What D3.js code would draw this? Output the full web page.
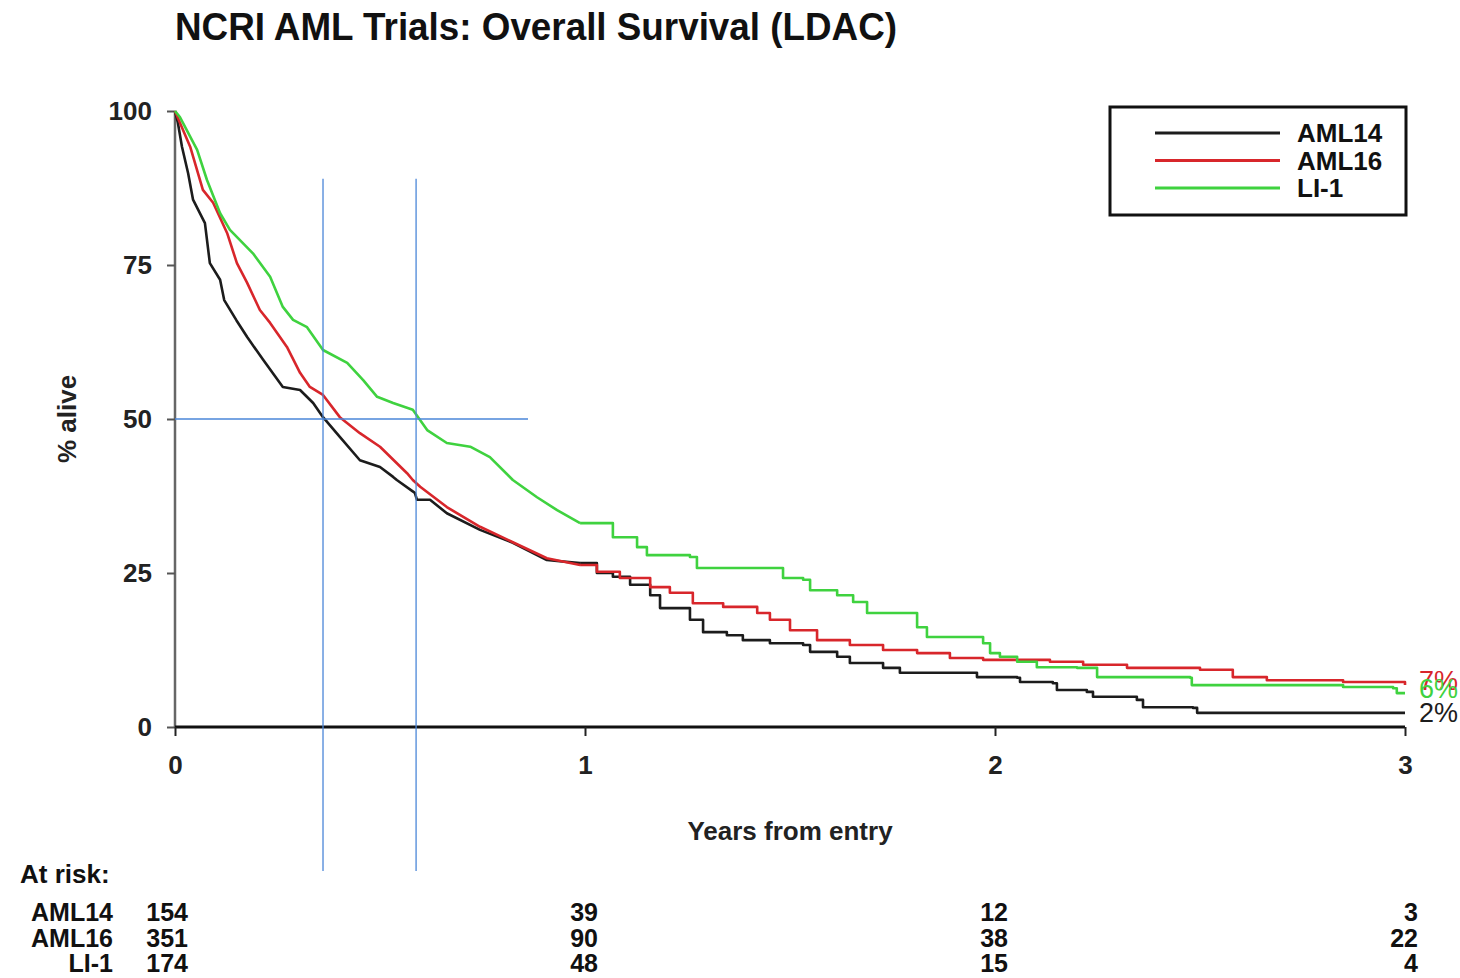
<!DOCTYPE html>
<html>
<head>
<meta charset="utf-8">
<script src="https://cdn.jsdelivr.net/npm/d3@7"></script>
<style>
  body { margin: 0; background: #fff; }
  svg { display: block; font-family: "Liberation Sans", Arial, Helvetica, sans-serif; }
</style>
</head>
<body>
<div id="plot"></div>
<script>
// Kaplan-Meier curves: [years from entry, % alive]
const aml14 = [
  [0, 100], [0.007, 98.1], [0.017, 94.2], [0.032, 89.9], [0.044, 85.6], [0.073, 81.8],
  [0.085, 75.3], [0.110, 72.6], [0.120, 69.3], [0.150, 66.0], [0.176, 63.3], [0.215, 59.6],
  [0.263, 55.2], [0.305, 54.7], [0.337, 52.6], [0.361, 50.3], [0.402, 47.1], [0.451, 43.3],
  [0.500, 42.2], [0.532, 40.6], [0.541, 40.1], [0.585, 38.0], [0.590, 36.9], [0.622, 36.9],
  [0.663, 34.7], [0.744, 32.0], [0.824, 29.9], [0.907, 27.1], [0.988, 26.6], [1.029, 25.0],
  [1.068, 24.4], [1.110, 23.1], [1.159, 21.4], [1.183, 19.3], [1.256, 17.4], [1.288, 15.4],
  [1.346, 14.9], [1.385, 14.1], [1.451, 13.6], [1.532, 13.3], [1.549, 12.2], [1.615, 11.4],
  [1.646, 10.4], [1.727, 9.6], [1.768, 8.8], [1.956, 8.1], [2.054, 8.0], [2.061, 7.3],
  [2.141, 7.1], [2.151, 6.0], [2.224, 5.7], [2.239, 4.9], [2.346, 4.4], [2.361, 3.2],
  [2.483, 3.1], [2.493, 2.3], [3.0, 2.3]
];
const aml16 = [
  [0, 100], [0.012, 98.1], [0.037, 94.2], [0.068, 87.2], [0.093, 85.1], [0.127, 80.2],
  [0.151, 75.3], [0.176, 72.1], [0.207, 67.7], [0.232, 65.6], [0.273, 61.7], [0.305, 57.5],
  [0.329, 55.2], [0.361, 53.9], [0.402, 50.3], [0.451, 47.7], [0.500, 45.5], [0.566, 41.2],
  [0.580, 40.1], [0.598, 39.0], [0.663, 35.7], [0.744, 32.5], [0.824, 30.0], [0.907, 27.4],
  [0.988, 26.3], [1.029, 25.2], [1.085, 24.2], [1.159, 22.7], [1.207, 21.8], [1.263, 20.1],
  [1.337, 19.5], [1.420, 18.5], [1.451, 17.4], [1.500, 15.7], [1.566, 14.1], [1.646, 13.3],
  [1.727, 12.5], [1.810, 12.0], [1.890, 11.2], [1.971, 10.9], [2.134, 10.6], [2.215, 10.1],
  [2.322, 9.6], [2.500, 9.3], [2.580, 8.1], [2.663, 7.6], [2.849, 7.3], [3.0, 6.8]
];
const li1 = [
  [0, 100], [0.012, 99.0], [0.054, 93.7], [0.078, 88.8], [0.110, 83.4], [0.134, 80.7],
  [0.190, 76.9], [0.232, 73.1], [0.263, 68.2], [0.288, 66.1], [0.322, 64.9], [0.361, 61.2],
  [0.420, 59.1], [0.459, 56.3], [0.493, 53.6], [0.532, 52.6], [0.580, 51.5], [0.615, 48.2],
  [0.663, 46.1], [0.720, 45.5], [0.768, 43.8], [0.824, 40.1], [0.883, 37.3], [0.932, 35.2],
  [0.988, 33.1], [1.068, 30.8], [1.127, 29.2], [1.151, 27.9], [1.256, 27.6], [1.273, 25.8],
  [1.468, 25.8], [1.483, 24.2], [1.532, 23.9], [1.549, 22.2], [1.615, 21.4], [1.654, 20.3],
  [1.688, 18.5], [1.776, 18.5], [1.810, 16.2], [1.834, 14.6], [1.971, 13.6], [1.988, 12.0],
  [2.012, 11.4], [2.054, 10.6], [2.102, 9.7], [2.200, 9.6], [2.249, 8.1], [2.476, 8.0],
  [2.480, 6.8], [2.824, 6.8], [2.849, 6.5], [2.971, 6.3], [2.980, 5.5], [3.0, 5.5]
];

const seriesNames = ["AML14", "AML16", "LI-1"];
const endLabels = ["2%", "7%", "6%"];
const endLabelPct = [0.8, 6.0, 4.7];

const yTicks = [0, 25, 50, 75, 100];
const xTicks = [0, 1, 2, 3];

const riskTimes = [0, 1, 2, 3];
const aml14Risk = [154, 39, 12, 3];
const aml16Risk = [351, 90, 38, 22];
const li1Risk = [174, 48, 15, 4];

// median guide lines drawn on the original
const medianTimes = [0.361, 0.588];
const medianPct = 50;
const medianLineEnd = 0.861;

// early part of the curves is dense (many tiny steps), drawn as a jagged line
const denseUntil = 1.0;

const colors = ["#1c1c1c", "#d8262b", "#3fd23f"];

const W = 1460, H = 978;
const svg = d3.select("#plot").append("svg")
  .attr("width", W)
  .attr("height", H);

const x = d3.scaleLinear().domain([0, 3]).range([175, 1405]);
const y = d3.scaleLinear().domain([0, 100]).range([727, 111]);

// title
svg.append("text")
  .attr("x", 175)
  .attr("y", 40)
  .attr("textLength", 722)
  .attr("lengthAdjust", "spacingAndGlyphs")
  .style("font-size", "38px")
  .style("font-weight", "bold")
  .style("fill", "#111")
  .text("NCRI AML Trials: Overall Survival (LDAC)");

// y axis
const yAxis = svg.append("g")
  .attr("transform", "translate(175,0)")
  .call(d3.axisLeft(y).tickValues(yTicks).tickSize(8).tickPadding(15));
yAxis.select(".domain").attr("stroke", "#666").attr("stroke-width", 2.5)
  .attr("d", "M0," + y(100) + "V" + y(0));
yAxis.selectAll(".tick line").attr("stroke", "#555").attr("stroke-width", 2);
yAxis.selectAll(".tick text")
  .style("font-size", "26px").style("font-weight", "bold")
  .style("font-family", "Liberation Sans, Arial, sans-serif").style("fill", "#222");

// x axis
const xAxis = svg.append("g")
  .attr("transform", "translate(0,727)")
  .call(d3.axisBottom(x).tickValues(xTicks).tickSize(9).tickPadding(20).tickFormat(d3.format("d")));
xAxis.select(".domain").attr("stroke", "#111").attr("stroke-width", 3)
  .attr("d", "M" + x(0) + ",0H" + x(3));
xAxis.selectAll(".tick line").attr("stroke", "#222").attr("stroke-width", 2);
xAxis.selectAll(".tick text")
  .style("font-size", "26px").style("font-weight", "bold")
  .style("font-family", "Liberation Sans, Arial, sans-serif").style("fill", "#222");

// axis titles
svg.append("text")
  .attr("x", 790)
  .attr("y", 840)
  .attr("text-anchor", "middle")
  .style("font-size", "26px")
  .style("font-weight", "bold")
  .style("fill", "#222")
  .text("Years from entry");

svg.append("text")
  .attr("transform", "translate(76," + y(50) + ") rotate(-90)")
  .attr("text-anchor", "middle")
  .style("font-size", "26px")
  .style("font-weight", "bold")
  .style("fill", "#222")
  .text("% alive");

// survival curves
const jagged = d3.line()
  .x(d => x(d[0]))
  .y(d => y(d[1]));
const stepped = d3.line()
  .x(d => x(d[0]))
  .y(d => y(d[1]))
  .curve(d3.curveStepAfter);

[aml14, aml16, li1].forEach(function(data, i) {
  const early = data.filter(d => d[0] <= denseUntil);
  const late = [early[early.length - 1]].concat(data.filter(d => d[0] > denseUntil));
  [[early, jagged], [late, stepped]].forEach(function(part) {
    svg.append("path")
      .datum(part[0])
      .attr("fill", "none")
      .attr("stroke", colors[i])
      .attr("stroke-width", 2.6)
      .attr("stroke-linejoin", "round")
      .attr("d", part[1]);
  });
});

// end-of-curve percentages
[0, 1, 2].forEach(function(i) {
  svg.append("text")
    .attr("x", x(3) + 14)
    .attr("y", y(endLabelPct[i]))
    .style("font-size", "27px")
    .style("fill", colors[i])
    .text(endLabels[i]);
});

// median guide lines (blue)
const blue = "#4a86d8";
svg.selectAll("line.vmed")
  .data(medianTimes)
  .enter()
  .append("line")
    .attr("class", "vmed")
    .attr("x1", d => x(d)).attr("x2", d => x(d))
    .attr("y1", y(89)).attr("y2", 871)
    .attr("stroke", blue).attr("stroke-width", 1.3);
svg.append("line")
  .attr("x1", x(0)).attr("x2", x(medianLineEnd))
  .attr("y1", y(medianPct)).attr("y2", y(medianPct))
  .attr("stroke", blue).attr("stroke-width", 1.3);

// legend
const legend = svg.append("g");
legend.append("rect")
  .attr("x", 1110).attr("y", 107)
  .attr("width", 296).attr("height", 108)
  .attr("fill", "#fff")
  .attr("stroke", "#111").attr("stroke-width", 3);
seriesNames.forEach(function(name, i) {
  const ly = 133 + i * 27.5;
  legend.append("line")
    .attr("x1", 1155).attr("x2", 1280)
    .attr("y1", ly).attr("y2", ly)
    .attr("stroke", colors[i]).attr("stroke-width", 3);
  legend.append("text")
    .attr("x", 1297).attr("y", ly + 9)
    .style("font-size", "26px")
    .style("font-weight", "bold")
    .style("fill", "#111")
    .text(name);
});

// at-risk table
svg.append("text")
  .attr("x", 20).attr("y", 883)
  .style("font-size", "26px")
  .style("font-weight", "bold")
  .style("fill", "#111")
  .text("At risk:");

[aml14Risk, aml16Risk, li1Risk].forEach(function(row, i) {
  const by = 921 + i * 25.5;
  svg.append("text")
    .attr("x", 113).attr("y", by)
    .attr("text-anchor", "end")
    .style("font-size", "25px")
    .style("font-weight", "bold")
    .style("fill", "#111")
    .text(seriesNames[i]);
  svg.selectAll(null)
    .data(row)
    .enter()
    .append("text")
      .attr("x", (d, j) => x(riskTimes[j]) + 13)
      .attr("y", by)
      .attr("text-anchor", "end")
      .style("font-size", "25px")
      .style("font-weight", "bold")
      .style("fill", "#111")
      .text(d => d);
});
</script>
</body>
</html>
